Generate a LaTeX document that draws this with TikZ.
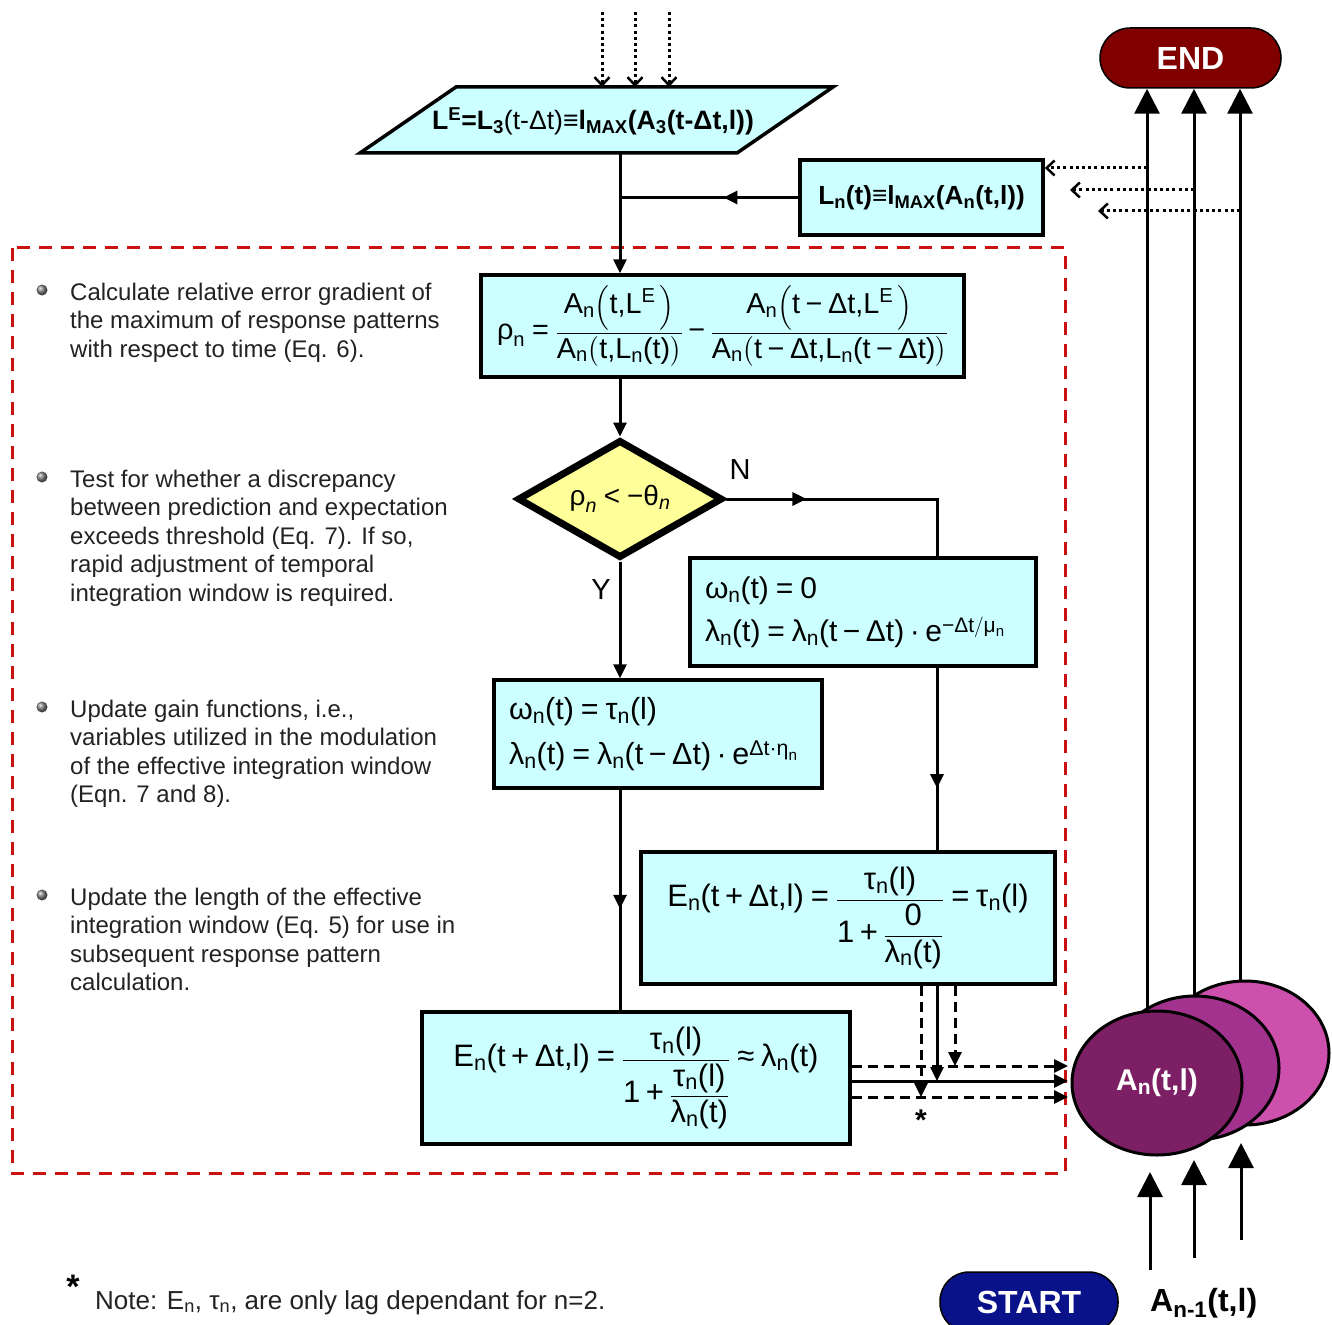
\documentclass[tikz,border=0pt]{standalone}
\usepackage{amsmath}
\usepackage{fontspec}
\setmainfont{Liberation Sans}
\usetikzlibrary{arrows.meta,shapes.geometric,decorations.markings,backgrounds}

\definecolor{cyanfill}{HTML}{CCFFFF}
\definecolor{yellowfill}{HTML}{FFFF99}
\definecolor{reddash}{HTML}{CC1111}
\definecolor{endred}{HTML}{800000}
\definecolor{startblue}{HTML}{0A128A}
\definecolor{purpA}{RGB}{125,31,100}
\definecolor{purpB}{RGB}{162,50,142}
\definecolor{purpC}{RGB}{204,80,172}
\definecolor{bodytext}{HTML}{222222}

\newcommand\tx[1]{\text{#1}}
\newcommand\myeq{\mathrel{\text{=}}}
\newcommand\mymi{\mathbin{\text{−}}}
\newcommand\mypl{\mathbin{\text{+}}}
\newcommand\mydot{\mathbin{\text{·}}}
\newcommand\myapprox{\mathrel{\text{≈}}}

\begin{document}
\begin{tikzpicture}[x=1pt,y=-1pt,
  box/.style={draw, line width=3.5pt, fill=cyanfill, inner sep=0pt, font=\fontsize{28}{34}\selectfont},
  conn/.style={line width=3pt, -{Triangle[length=14pt,width=13pt]}},
  link/.style={line width=3pt},
  dasharrow/.style={line width=3pt, dash pattern=on 10pt off 6pt, -{Triangle[length=14pt,width=13pt]}},
  bigarrow/.style={line width=3pt, -{Triangle[length=25pt,width=25pt]}},
  midarrow/.style={postaction={decorate}, decoration={markings, mark=at position #1 with {\arrow{Triangle[length=14pt,width=13pt]}}}},
  dotarrow/.style={line width=3pt, dash pattern=on 3pt off 3.2pt, -{Straight Barb[length=8pt,width=15pt,line width=2.5pt]}},
  bullettext/.style={anchor=north west, inner sep=0pt, align=left, text=bodytext, font=\fontsize{24}{28.5}\selectfont},
  pill/.style={draw, line width=1.5pt, text=white, inner sep=0pt, font=\bfseries\fontsize{32}{36}\selectfont},
  blob/.style={ellipse, draw, line width=3pt, inner sep=0pt, minimum width=168pt, minimum height=144pt},
]
\useasboundingbox (0,0) rectangle (1332,1324);

% red dashed frame
\draw[reddash, line width=3pt, dash pattern=on 13pt off 9pt] (12,248) rectangle (1065,1173);

% parallelogram
\draw[line width=3.5pt, fill=cyanfill] (456,87) -- (833,87) -- (737,153) -- (360,153) -- cycle;
\node[inner sep=0pt, font=\bfseries\fontsize{26.6}{32}\selectfont] (le) at (593,121)
  {L\textsuperscript{E}=L\textsubscript{3}\textmd{(t-Δt)}≡l\textsubscript{MAX}(A\textsubscript{3}(t-Δt,l))};
\coordinate (pbot) at (620,153);
\coordinate (ptop) at (620,87);

% top dotted arrows
\coordinate (t1) at (602,12);
\coordinate (t2) at (635,12);
\coordinate (t3) at (669,12);
\draw[dotarrow] (t1) -- (t1 |- ptop);
\draw[dotarrow] (t2) -- (t2 |- ptop);
\draw[dotarrow] (t3) -- (t3 |- ptop);

% boxes
\node[box, font=\bfseries\fontsize{26.2}{32}\selectfont, minimum width=243pt, minimum height=75pt] (ln) at (921.5,197.5)
  {L\textsubscript{n}(t)≡l\textsubscript{MAX}(A\textsubscript{n}(t,l))};

\node[box, minimum width=483pt, minimum height=102pt, font=\fontsize{28.8}{34}\selectfont] (rho) at (722.5,326)
  {$\tx{ρ}_\tx{n} \myeq \dfrac{\tx{A}_\tx{n}\!\left(\tx{t,L}^\tx{E}\,\right)}{\tx{A}_\tx{n}\!\left(\tx{t,L}_\tx{n}\tx{(t)}\right)} \mymi \dfrac{\tx{A}_\tx{n}\!\left(\tx{t} \mymi \tx{Δt,L}^\tx{E}\,\right)}{\tx{A}_\tx{n}\!\left(\tx{t} \mymi \tx{Δt,L}_\tx{n}\tx{(t} \mymi \tx{Δt)}\right)}$};

\node[diamond, draw, line width=7pt, fill=yellowfill, minimum width=205pt, minimum height=118pt, shape aspect=1.74, inner sep=0pt, font=\fontsize{28}{32}\selectfont] (dia) at (620,499)
  {$\tx{ρ}_{\tx{\itshape n}} \mathrel{\tx{<}} \tx{−θ}_{\tx{\itshape n}}$};

\node[box, minimum width=346pt, minimum height=108pt, text width=316pt, align=left, font=\fontsize{30}{43}\selectfont] (w0) at (863,612)
  {$\tx{ω}_\tx{n}\tx{(t)} \myeq \tx{0}$\\
   $\tx{λ}_\tx{n}\tx{(t)} \myeq \tx{λ}_\tx{n}\tx{(t} \mymi \tx{Δt)}\mydot\tx{e}^{\tx{−Δt}/\tx{μ}_\tx{n}}$};

\node[box, minimum width=328pt, minimum height=108pt, text width=298pt, align=left, font=\fontsize{30.5}{45}\selectfont] (wt) at (658,734)
  {$\tx{ω}_\tx{n}\tx{(t)} \myeq \tx{τ}_\tx{n}\tx{(l)}$\\
   $\tx{λ}_\tx{n}\tx{(t)} \myeq \tx{λ}_\tx{n}\tx{(t} \mymi \tx{Δt)}\mydot\tx{e}^{\tx{Δt·η}_\tx{n}}$};

\node[box, minimum width=414pt, minimum height=132pt, font=\fontsize{31}{36}\selectfont] (et) at (848,918)
  {$\tx{E}_\tx{n}\tx{(t} \mypl \tx{Δt,l)} \myeq \dfrac{\tx{τ}_\tx{n}\tx{(l)}}{\tx{1} \mypl \dfrac{\tx{0}}{\tx{λ}_\tx{n}\tx{(t)}}} \myeq \tx{τ}_\tx{n}\tx{(l)}$};

\node[box, minimum width=428pt, minimum height=132pt, font=\fontsize{31}{36}\selectfont] (ea) at (636,1078)
  {$\tx{E}_\tx{n}\tx{(t} \mypl \tx{Δt,l)} \myeq \dfrac{\tx{τ}_\tx{n}\tx{(l)}}{\tx{1} \mypl \dfrac{\tx{τ}_\tx{n}\tx{(l)}}{\tx{λ}_\tx{n}\tx{(t)}}} \myapprox \tx{λ}_\tx{n}\tx{(t)}$};

% labels
\node[inner sep=0pt, font=\fontsize{29}{34}\selectfont] (nlab) at (740,470) {N};
\node[inner sep=0pt, font=\fontsize{29}{34}\selectfont] (ylab) at (601,590) {Y};
\node[inner sep=0pt, font=\bfseries\fontsize{30}{30}\selectfont] (star) at (921,1120) {*};

% END / START
\node[pill, fill=endred, rounded corners=30pt, minimum width=181pt, minimum height=60pt] (endn) at (1190.5,58) {END};
\node[pill, fill=startblue, rounded corners=29pt, minimum width=178pt, minimum height=60pt] (start) at (1029,1302) {START};
\node[anchor=base west, inner sep=0pt, font=\bfseries\fontsize{32}{36}\selectfont] (anm1) at (1150,1311) {A\textsubscript{n-1}(t,l)};

% ellipses
\node[blob, fill=purpC] (ab) at (1245,1053) {};
\node[blob, fill=purpB] (am) at (1195,1068) {};
\node[blob, fill=purpA, text=white, font=\bfseries\fontsize{30}{36}\selectfont, minimum width=170pt] (af) at (1157,1083) {A\textsubscript{n}(t,l)};

% lines to END (behind ellipses)
\begin{scope}[on background layer]
\draw[bigarrow] ([xshift=-10pt]af.center) -- ([xshift=-10pt]af.center |- endn.south);
\draw[bigarrow] ([xshift=-1pt]am.center) -- ([xshift=-1pt]am.center |- endn.south);
\draw[bigarrow] ([xshift=-5pt]ab.center) -- ([xshift=-5pt]ab.center |- endn.south);
\end{scope}

% dotted arrows to L_n box
\coordinate (e1) at (1147,168);
\coordinate (e2) at (1194,190);
\coordinate (e3) at (1240,211);
\coordinate (f2) at (1070,190);
\coordinate (f3) at (1098,211);
\draw[dotarrow] (e1) -- (ln.east |- e1);
\draw[dotarrow] (e2) -- (f2);
\draw[dotarrow] (e3) -- (f3);

% bottom arrows
\coordinate (s1) at (1150,1270);
\coordinate (s2) at (1194,1258);
\coordinate (s3) at (1241,1240);
\coordinate (s1e) at (1150,1172);
\coordinate (s2e) at (1194,1160);
\coordinate (s3e) at (1241,1143);
\draw[bigarrow] (s1) -- (s1e);
\draw[bigarrow] (s2) -- (s2e);
\draw[bigarrow] (s3) -- (s3e);

% main flow connectors
\draw[conn] (pbot) -- (pbot |- rho.north);
\draw[link, midarrow=0.42] (ln.west) -- (ln.west -| pbot);
\draw[conn] (rho.south -| dia.north) -- (dia.north);
\draw[conn] (dia.south) -- (dia.south |- wt.north);
\coordinate (nx) at (937,0);
\draw[link, midarrow=0.3] (dia.east) -| (nx |- w0.north);
\draw[link, midarrow=0.66] (nx |- w0.south) -- (nx |- et.north);
\draw[link, midarrow=0.54] (dia.south |- wt.south) -- (dia.south |- ea.north);

% outputs to A_n
\coordinate (r1) at (1068,1066);
\coordinate (r2) at (1068,1081);
\coordinate (r3) at (1068,1097);
\draw[dasharrow] (ea.east |- r1) -- (r1);
\draw[conn] (ea.east |- r2) -- (r2);
\draw[dasharrow] (ea.east |- r3) -- (r3);
\coordinate (v1) at (921,1097);
\coordinate (v2) at (937,1081);
\coordinate (v3) at (955,1066);
\draw[dasharrow] (et.south -| v1) -- (v1);
\draw[conn] (et.south -| v2) -- (v2);
\draw[dasharrow] (et.south -| v3) -- (v3);

% bullets
\shade[ball color=gray] (42,290) circle (5.5pt);
\shade[ball color=gray] (42,477) circle (5.5pt);
\shade[ball color=gray] (42,707) circle (5.5pt);
\shade[ball color=gray] (42,895) circle (5.5pt);
\node[bullettext] (b1) at (70,280) {\rule{0pt}{20pt}Calculate relative error gradient of\\the maximum of response patterns\\with respect to time (Eq. 6).};
\node[bullettext] (b2) at (70,467) {\rule{0pt}{20pt}Test for whether a discrepancy\\between prediction and expectation\\exceeds threshold (Eq. 7). If so,\\rapid adjustment of temporal\\integration window is required.};
\node[bullettext] (b3) at (70,697) {\rule{0pt}{20pt}Update gain functions, i.e.,\\variables utilized in the modulation\\of the effective integration window\\(Eqn. 7 and 8).};
\node[bullettext] (b4) at (70,885) {\rule{0pt}{20pt}Update the length of the effective\\integration window (Eq. 5) for use in\\subsequent response pattern\\calculation.};

% note
\node[inner sep=0pt, font=\bfseries\fontsize{34}{34}\selectfont] (nstar) at (73,1287) {*};
\node[anchor=base west, inner sep=0pt, text=bodytext, font=\fontsize{26}{30}\selectfont] (note) at (95,1309)
  {Note: E\textsubscript{n}, τ\textsubscript{n}, are only lag dependant for n=2.};
\end{tikzpicture}
\end{document}
